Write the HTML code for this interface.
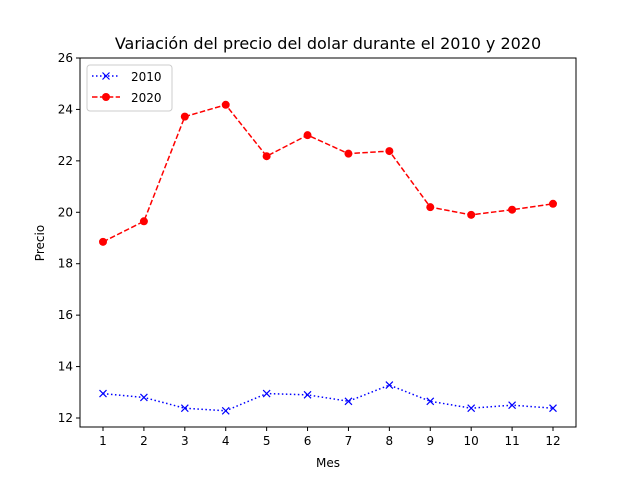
<!DOCTYPE html>
<html><head><meta charset="utf-8"><style>body{margin:0;background:#fff}svg{font-family:"DejaVu Sans","Liberation Sans",sans-serif}</style></head>
<body>
<svg id="c" width="640" height="480" xmlns="http://www.w3.org/2000/svg"></svg>
<script>
const months=[1,2,3,4,5,6,7,8,9,10,11,12];
const values2010=[12.95,12.8,12.38,12.28,12.95,12.9,12.65,13.28,12.65,12.38,12.5,12.38];
const values2020=[18.85,19.65,23.72,24.18,22.18,23.0,22.28,22.38,20.2,19.9,20.1,20.33];
const yTicks=[12,14,16,18,20,22,24,26];
const L=80,R=576,T=58,B=427;
const x=v=>103+(v-1)*(553-103)/11;
const y=v=>58+(26-v)*(418-58)/14;
const s=document.getElementById('c');
const NS='http://www.w3.org/2000/svg';
function el(t,a,p){const e=document.createElementNS(NS,t);for(const k in a)e.setAttribute(k,a[k]);(p||s).appendChild(e);return e;}
function txt(t,a,name){const e=el('text',a);e.textContent=t;return e;}
const title=txt('Variación del precio del dolar durante el 2010 y 2020',{x:328,y:49,'text-anchor':'middle','font-size':16},'chart-title');
months.forEach(m=>{const t=el('line',{x1:x(m),x2:x(m),y1:B,y2:B+4,stroke:'#000'});

txt(String(m),{x:x(m),y:B+18,'text-anchor':'middle','font-size':12},'x-tick-label');});
yTicks.forEach(v=>{const t=el('line',{x1:L-4,x2:L,y1:y(v),y2:y(v),stroke:'#000'});

txt(String(v),{x:L-7,y:y(v)+4,'text-anchor':'end','font-size':12},'y-tick-label');});
txt('Mes',{x:328,y:467,'text-anchor':'middle','font-size':12},'x-axis-title');
txt('Precio',{x:44,y:243,'text-anchor':'middle','font-size':12,transform:'rotate(-90 44 243)'},'y-axis-title');
function series(vals,color,dash,marker,name){
 const p=el('polyline',{points:vals.map((v,i)=>x(months[i])+','+y(v)).join(' '),fill:'none',stroke:color,'stroke-width':1.5,'stroke-dasharray':dash});
 
 vals.forEach((v,i)=>{const cx=x(months[i]),cy=y(v);let m;
  if(marker==='x'){m=el('path',{d:`M${cx-3.5},${cy-3.5}L${cx+3.5},${cy+3.5}M${cx-3.5},${cy+3.5}L${cx+3.5},${cy-3.5}`,stroke:color,'stroke-width':1.2});}
  else m=el('circle',{cx:cx,cy:cy,r:4,fill:color});
  });
}
series(values2010,'#0000ff','1.5 2.5','x','series-2010');
series(values2020,'#ff0000','5.5 2.4','o','series-2020');
const f=el('rect',{x:L,y:T,width:R-L,height:B-T,fill:'none',stroke:'#000','stroke-width':1});

const g=el('g',{});
el('rect',{x:87,y:65,width:85,height:46,rx:3,fill:'#fff',stroke:'#ccc'},g);
el('line',{x1:92,x2:120,y1:76,y2:76,stroke:'#0000ff','stroke-width':1.5,'stroke-dasharray':'1.5 2.5'},g);
el('path',{d:'M102.5,72.5L109.5,79.5M102.5,79.5L109.5,72.5',stroke:'#0000ff','stroke-width':1.2},g);
el('line',{x1:92,x2:120,y1:97,y2:97,stroke:'#ff0000','stroke-width':1.5,'stroke-dasharray':'5.5 2.4'},g);
el('circle',{cx:106,cy:97,r:4,fill:'#ff0000'},g);
txt('2010',{x:131,y:81,'font-size':12},'legend-label-2010');
txt('2020',{x:131,y:102,'font-size':12},'legend-label-2020');
</script>
</body></html>
